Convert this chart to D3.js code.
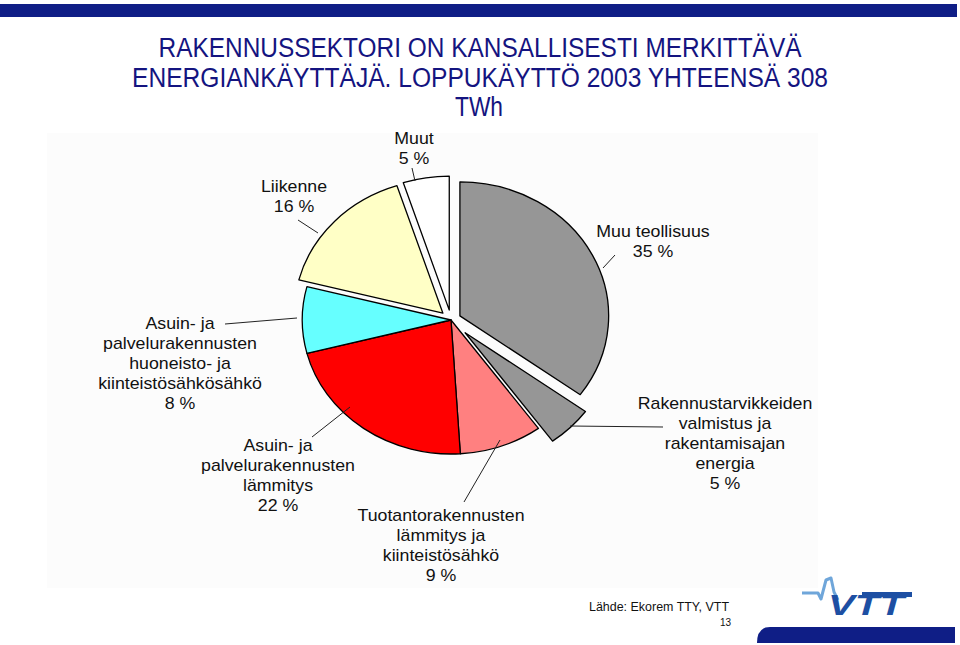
<!DOCTYPE html>
<html><head><meta charset="utf-8">
<script src="https://cdn.jsdelivr.net/npm/d3@7"></script>
<style>body{margin:0;background:#fff}svg{display:block}</style>
</head><body><svg id="c" width="960" height="645"></svg>
<script>
// ---- data ----
const categories = [
  "Muu teollisuus",
  "Rakennustarvikkeiden valmistus ja rakentamisajan energia",
  "Tuotantorakennusten lämmitys ja kiinteistösähkö",
  "Asuin- ja palvelurakennusten lämmitys",
  "Asuin- ja palvelurakennusten huoneisto- ja kiinteistösähkösähkö",
  "Liikenne",
  "Muut"
];
const shares = [35, 5, 9, 22, 8, 16, 5];
const labelLines = [
  ["Muu teollisuus", "35 %"],
  ["Rakennustarvikkeiden", "valmistus ja", "rakentamisajan", "energia", "5 %"],
  ["Tuotantorakennusten", "lämmitys ja", "kiinteistösähkö", "9 %"],
  ["Asuin- ja", "palvelurakennusten", "lämmitys", "22 %"],
  ["Asuin- ja", "palvelurakennusten", "huoneisto- ja", "kiinteistösähkösähkö", "8 %"],
  ["Liikenne", "16 %"],
  ["Muut", "5 %"]
];
const titleLines = [
  "RAKENNUSSEKTORI ON KANSALLISESTI MERKITTÄVÄ",
  "ENERGIANKÄYTTÄJÄ. LOPPUKÄYTTÖ 2003 YHTEENSÄ 308",
  "TWh"
];
const sourceText = "Lähde: Ekorem TTY, VTT";
const pageNumber = "13";

// ---- styles / layout ----
const colors = ["#969696", "#969696", "#FF8080", "#FF0000", "#66FFFF", "#FFFFC6", "#FFFFFF"];
const explode = [9, 18, 0, 0, 0, 10, 10];
const labelPos = [ // label centre x, first line centre y, leader x1,y1,x2,y2
  {x:653, y:231, l:[615,255,603,268]},
  {x:725, y:403, l:[663,427,570,426]},
  {x:441, y:515, l:[464,502,500,440]},
  {x:278, y:445, l:[312,437,350,407]},
  {x:180, y:323, l:[225,324,297,318]},
  {x:294, y:186, l:[298,220,318,233]},
  {x:414, y:138, l:[412,168,415,181]}
];
const titleLayout = [
  {x:480, y:57, w:643},
  {x:480, y:87, w:696},
  {x:479, y:116, w:48}
];
const cx = 451, cy = 320, R = 134, sx = 1.11;

const svg = d3.select("#c");

// top bar
svg.append("rect").attr("x",0).attr("y",4).attr("width",957).attr("height",13).attr("fill","#0F1E86");

// title
svg.append("g").selectAll("text").data(titleLines).join("text")
  .attr("x",(d,i)=>titleLayout[i].x).attr("y",(d,i)=>titleLayout[i].y)
  .attr("text-anchor","middle")
  .attr("textLength",(d,i)=>titleLayout[i].w).attr("lengthAdjust","spacingAndGlyphs")
  .attr("font-family","Liberation Sans, Arial, sans-serif").attr("font-size",27)
  .attr("fill","#141480").text(d=>d);

// chart area background
svg.append("rect").attr("x",47).attr("y",133).attr("width",771).attr("height",455).attr("fill","#FCFCFC");

// pie
const pie = d3.pie().sort(null).value(d=>d).startAngle(0).endAngle(2*Math.PI);
const arcs = pie(shares);
const arc = d3.arc().innerRadius(0).outerRadius(R);
const pg = svg.append("g").attr("transform",`translate(${cx},${cy}) scale(${sx},1)`);
pg.selectAll("path").data(arcs).join("path")
  .attr("transform",(d,i)=>{
    const a=(d.startAngle+d.endAngle)/2;
    return `translate(${Math.sin(a)*explode[i]},${-Math.cos(a)*explode[i]})`;
  })
  .attr("d",arc)
  .attr("fill",(d,i)=>colors[i])
  .attr("stroke","#000").attr("stroke-width",1.3)
  .attr("stroke-linejoin","round")
  .attr("vector-effect","non-scaling-stroke");

// leader lines
svg.append("g").selectAll("line").data(labelPos).join("line")
  .attr("x1",d=>d.l[0]).attr("y1",d=>d.l[1]).attr("x2",d=>d.l[2]).attr("y2",d=>d.l[3])
  .attr("stroke","#222").attr("stroke-width",1);

// labels
const lg = svg.append("g").attr("font-family","Liberation Sans, Arial, sans-serif")
  .attr("font-size",16).attr("fill","#111");
labelLines.forEach((lines,i)=>{
  const p = labelPos[i];
  const t = lg.append("text").attr("transform",`translate(${p.x},${p.y}) scale(${sx},1)`)
    .attr("text-anchor","middle");
  lines.forEach((s,j)=>{
    t.append("tspan").attr("x",0).attr("y",j*20).attr("dy","0.35em").text(s);
  });
});

// source + page number
svg.append("text").attr("x",589).attr("y",611)
  .attr("font-family","Liberation Sans, Arial, sans-serif").attr("font-size",13.5)
  .attr("textLength",140).attr("lengthAdjust","spacingAndGlyphs")
  .attr("fill","#111").text(sourceText);
svg.append("text").attr("x",731).attr("y",626).attr("text-anchor","end")
  .attr("font-family","Liberation Sans, Arial, sans-serif").attr("font-size",10)
  .attr("fill","#111").text(pageNumber);

// VTT logo
svg.append("path")
  .attr("d","M802,593 L818,593 L821,599 L826,580 L831,578 L834,592 L838,600")
  .attr("fill","none").attr("stroke","#6FA6DA").attr("stroke-width",3).attr("stroke-linejoin","round");
svg.append("text").attr("x",828).attr("y",615)
  .attr("font-family","Liberation Sans, Arial, sans-serif").attr("font-size",30)
  .attr("font-weight","bold").attr("font-style","italic")
  .attr("textLength",76).attr("lengthAdjust","spacingAndGlyphs")
  .attr("fill","#1D4FA3").text("VTT");
svg.append("rect").attr("x",862).attr("y",592).attr("width",50).attr("height",5).attr("fill","#1D4FA3");
svg.append("path")
  .attr("d","M770,627 L955,627 L955,643 L757,643 Q757,627 770,627 Z")
  .attr("fill","#0F1E86");
</script></body></html>
